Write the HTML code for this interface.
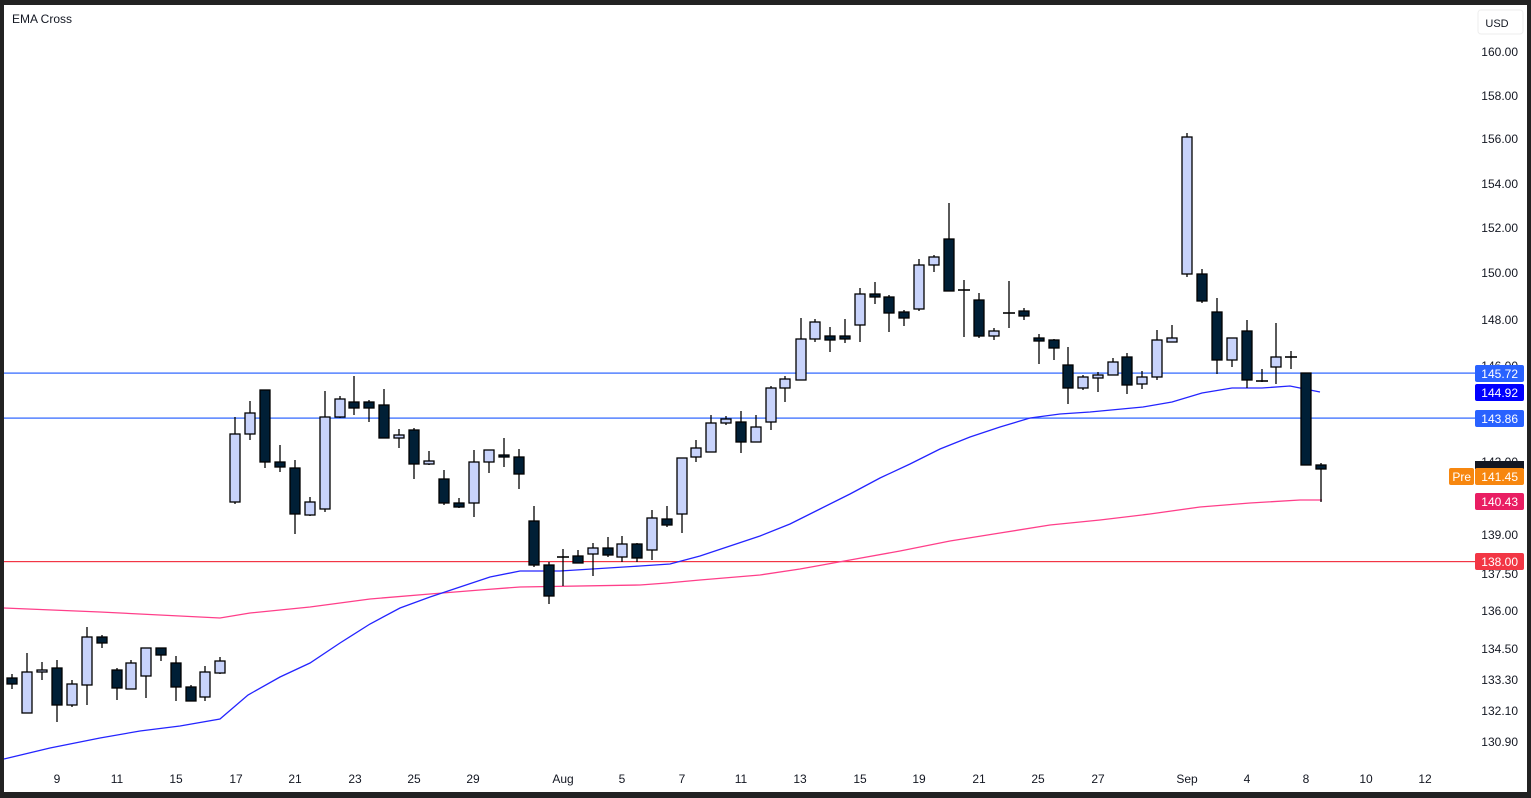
<!DOCTYPE html>
<html><head><meta charset="utf-8"><style>
html,body{margin:0;padding:0;background:#222;}
body{width:1531px;height:798px;overflow:hidden;font-family:"Liberation Sans",sans-serif;}
svg{display:block}
</style></head><body>
<svg width="1531" height="798" xmlns="http://www.w3.org/2000/svg" font-family="Liberation Sans, sans-serif">
<rect x="0" y="0" width="1531" height="798" fill="#222"/>
<rect x="4" y="5" width="1523" height="787" fill="#fff"/>
<text x="12" y="23" font-size="12" fill="#131722">EMA Cross</text>
<rect x="4" y="372.5" width="1471" height="1.2" fill="#2962ff"/>
<rect x="4" y="417.5" width="1471" height="1.2" fill="#2962ff"/>
<rect x="4" y="561" width="1471" height="1.2" fill="#f23645"/>
<polyline fill="none" stroke="#ff3f8a" stroke-width="1.3" points="4,608 100,612 220,618 250,613 310,607 370,599 430,594 480,590 520,587 640,585 667,583 700,580 760,575 800,569 850,560 900,551 950,541 1000,533 1050,525 1100,520 1150,514 1200,507 1250,503 1300,500 1322,500"/>
<polyline fill="none" stroke="#2424ff" stroke-width="1.3" points="4,759 50,748 100,738 140,731 180,726 220,719 248,695 280,677 310,663 340,643 370,624 400,608 430,597 460,587 490,577 520,571 560,571 640,566 670,564 700,556 730,546 760,536 790,524 820,509 850,494 880,478 910,464 940,449 970,437 1000,427 1030,418 1060,414 1090,412 1143,407 1172,402 1202,393 1232,388 1262,388 1290,386 1320,392"/>
<g id="c" stroke="#000" stroke-width="1.3"></g>
<g font-size="12" fill="#131722" text-anchor="end">
<text x="1518" y="56">160.00</text><text x="1518" y="100">158.00</text><text x="1518" y="143">156.00</text><text x="1518" y="188">154.00</text><text x="1518" y="232">152.00</text><text x="1518" y="277">150.00</text><text x="1518" y="324">148.00</text><text x="1518" y="370">146.00</text><text x="1518" y="466">142.00</text><text x="1518" y="539">139.00</text><text x="1518" y="578">137.50</text><text x="1518" y="615">136.00</text><text x="1518" y="653">134.50</text><text x="1518" y="684">133.30</text><text x="1518" y="715">132.10</text><text x="1518" y="746">130.90</text>
</g>
<rect x="1478" y="10" width="45" height="24" rx="3" fill="#fff" stroke="#eee"/>
<text x="1497" y="27" font-size="11" fill="#131722" text-anchor="middle">USD</text>
<g font-size="12" fill="#fff" text-anchor="end">
<rect x="1475" y="365" width="49" height="17" rx="2" fill="#2962ff"/><text x="1518" y="378">145.72</text>
<rect x="1475" y="384" width="49" height="17" rx="2" fill="#0000ff"/><text x="1518" y="397">144.92</text>
<rect x="1475" y="410" width="49" height="17" rx="2" fill="#2962ff"/><text x="1518" y="423">143.86</text>
<rect x="1475" y="461" width="49" height="8" fill="#131722"/>
<rect x="1475" y="468" width="49" height="17" rx="2" fill="#f7870f"/><text x="1518" y="481">141.45</text>
<rect x="1449" y="468" width="25" height="17" rx="2" fill="#f7870f"/><text x="1471" y="481">Pre</text>
<rect x="1475" y="493" width="49" height="17" rx="2" fill="#e91e63"/><text x="1518" y="506">140.43</text>
<rect x="1475" y="553" width="49" height="17" rx="2" fill="#f23645"/><text x="1518" y="566">138.00</text>
</g>
<g font-size="12" fill="#131722" text-anchor="middle">
<text x="57" y="783">9</text><text x="117" y="783">11</text><text x="176" y="783">15</text><text x="236" y="783">17</text><text x="295" y="783">21</text><text x="355" y="783">23</text><text x="414" y="783">25</text><text x="473" y="783">29</text><text x="563" y="783">Aug</text><text x="622" y="783">5</text><text x="682" y="783">7</text><text x="741" y="783">11</text><text x="800" y="783">13</text><text x="860" y="783">15</text><text x="919" y="783">19</text><text x="979" y="783">21</text><text x="1038" y="783">25</text><text x="1098" y="783">27</text><text x="1187" y="783">Sep</text><text x="1247" y="783">4</text><text x="1306" y="783">8</text><text x="1366" y="783">10</text><text x="1425" y="783">12</text>
</g>
</svg>
<script>
var d=[
[12,'d',678,684,674,689],[27,'l',672,713,653,713],[42,'l',670,672,662,680],[57,'d',668,705,660,722],[72,'l',684,705,680,707],[87,'l',637,685,627,705],[102,'d',637,643,635,648],[117,'d',670,688,668,700],[131,'l',663,689,660,689],[146,'l',648,676,648,698],[161,'d',648,655,648,661],[176,'d',663,687,656,701],[191,'d',687,701,685,701],[205,'l',672,697,666,701],[220,'l',661,673,657,674],
[235,'l',434,502,417,504],[250,'l',413,434,401,440],[265,'d',390,462,390,468],[280,'d',462,467,445,472],[295,'d',468,514,460,534],[310,'l',502,515,497,516],[325,'l',417,509,391,512],[340,'l',399,417,396,418],[354,'d',402,408,376,415],[369,'d',402,408,400,422],[384,'d',405,438,389,438],[399,'l',435,438,429,448],[414,'d',430,464,428,479],[429,'l',461,464,451,465],[444,'d',479,503,470,505],[459,'d',503,507,498,508],[474,'l',462,503,450,517],[489,'l',450,462,450,473],[504,'d',455,457,438,467],[519,'d',457,474,449,489],[534,'d',521,565,506,567],
[549,'d',565,596,562,604],[563,'d',557,557,549,586],[578,'d',556,563,550,563],[593,'l',548,554,543,576],[608,'d',548,555,537,557],[622,'l',544,557,536,562],[637,'d',544,558,543,562],[652,'l',518,550,510,560],[667,'d',519,525,506,527],[682,'l',458,514,458,533],[696,'l',448,457,440,462],[711,'l',423,452,415,452],[726,'l',419,423,416,425],[741,'d',422,442,411,453],[756,'l',427,442,415,442],[771,'l',388,422,386,430],[785,'l',379,388,376,402],
[801,'l',339,380,318,380],[815,'l',322,339,319,342],[830,'d',336,340,327,352],[845,'d',336,339,319,343],[860,'l',294,325,288,342],[875,'d',294,297,282,304],[889,'d',297,313,295,332],[904,'d',312,318,310,326],[919,'l',265,309,259,311],[934,'l',257,265,255,272],[949,'d',239,291,203,291],[964,'d',290,290,280,337],[979,'d',300,336,293,338],[994,'l',331,336,328,340],[1009,'d',313,313,281,328],[1024,'d',311,316,308,320],
[1039,'d',338,341,334,364],[1054,'d',340,348,339,360],[1068,'d',365,388,347,404],[1083,'l',377,388,375,390],[1098,'l',375,378,372,392],[1113,'l',362,375,358,375],[1127,'d',357,385,353,394],[1142,'l',377,384,371,389],[1157,'l',340,377,330,380],[1172,'l',338,342,325,342],[1187,'l',137,274,133,277],[1202,'d',274,301,269,303],[1217,'d',312,360,298,374],[1232,'l',338,360,338,367],[1247,'d',331,380,320,388],[1262,'d',381,381,369,382],[1276,'l',357,367,323,384],[1291,'d',357,357,351,369],[1306,'d',373,465,373,465],[1321,'d',465,469,463,502]];
var g=document.getElementById('c'),h='';
d.forEach(function(c){var x=c[0],t=c[2],b=c[3];
h+='<line x1="'+x+'" y1="'+c[4]+'" x2="'+x+'" y2="'+c[5]+'"/>';
if(b-t<1){h+='<line x1="'+(x-6)+'" y1="'+t+'" x2="'+(x+6)+'" y2="'+t+'" stroke-width="1.6"/>';}
else h+='<rect x="'+(x-5)+'" y="'+t+'" width="10" height="'+(b-t)+'" fill="'+(c[1]=='d'?'#001f36':'#c8d3fb')+'"/>';});
g.innerHTML=h;
</script>
</body></html>
